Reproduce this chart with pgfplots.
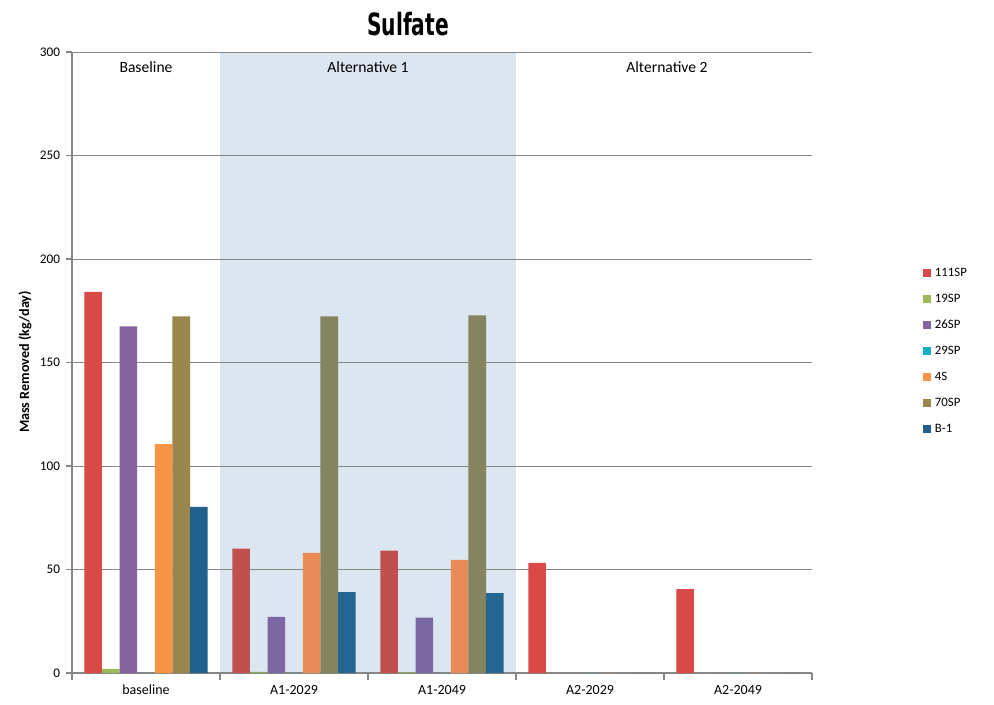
\documentclass[border=0pt]{standalone}
\usepackage{fontspec}
\setmainfont{Carlito}
\newfontfamily\titlefont{DejaVu Sans}
\usepackage{graphicx}
\usepackage{pgfplots}
\pgfplotsset{compat=1.18}
\definecolor{axisgray}{RGB}{134,134,134}
\definecolor{altshade}{RGB}{220,230,241}
\definecolor{cA}{RGB}{217,74,71}
\definecolor{cB}{RGB}{155,187,89}
\definecolor{cC}{RGB}{135,98,160}
\definecolor{cD}{RGB}{25,175,201}
\definecolor{cE}{RGB}{249,148,68}
\definecolor{cF}{RGB}{154,134,79}
\definecolor{cG}{RGB}{33,96,141}
\definecolor{aA}{RGB}{192,80,77}
\definecolor{aB}{RGB}{143,168,96}
\definecolor{aC}{RGB}{123,104,163}
\definecolor{aD}{RGB}{40,165,190}
\definecolor{aE}{RGB}{233,139,86}
\definecolor{aF}{RGB}{132,132,96}
\definecolor{aG}{RGB}{36,101,146}
\begin{document}
\begin{tikzpicture}
\begin{axis}[
  at={(54pt,23.25pt)}, anchor=south west,
  scale only axis, width=555pt, height=465.75pt,
  set layers,
  xmin=-0.5, xmax=4.5, ymin=0, ymax=300,
  axis x line*=bottom, axis y line*=left,
  axis line style={draw=axisgray, line width=0.8pt},
  ytick={0,50,...,300},
  ymajorgrids, grid style={draw=axisgray, line width=0.7pt},
  xtick={0,1,2,3,4},
  xticklabels={baseline,A1-2029,A1-2049,A2-2029,A2-2049},
  minor xtick={-0.5,0.5,1.5,2.5,3.5,4.5},
  major x tick style={draw=none},
  minor x tick style={draw=axisgray, line width=0.8pt},
  ytick style={draw=axisgray, line width=0.8pt},
  tick align=outside,
  major tick length=4.5pt, minor tick length=5pt,
  tick label style={font=\fontsize{9.9}{12}\selectfont},
  xticklabel style={font=\fontsize{10.5}{12}\selectfont, yshift=-1pt},
  yticklabel style={xshift=-1pt},
  /pgf/number format/assume math mode=true,
  ybar=0pt, bar width=0.119,
  legend style={at={(1,0.518)}, anchor=west, xshift=83pt, draw=none, fill=none,
    font=\fontsize{9.6}{11}\selectfont, row sep=8.5pt, inner sep=0pt,
    nodes={inner sep=1pt, text height=7pt, text depth=2pt, anchor=west}},
  legend cell align=left,
  legend image code/.code={\fill[#1] (0pt,-3pt) rectangle (6pt,3pt);},
]
\begin{pgfonlayer}{axis background}
\fill[altshade] (axis cs:0.5,0) rectangle (axis cs:2.5,300);
\end{pgfonlayer}

% baseline and Alternative 2 (legend series)
\addplot[bar shift=-0.357, fill=cA, draw=none] coordinates {(0,184.1) (3,53.2) (4,40.5)};
\addlegendentry{\hspace{2pt}111SP}
\addplot[bar shift=-0.238, fill=cB, draw=none] coordinates {(0,2.0) (3,0) (4,0)};
\addlegendentry{\hspace{2pt}19SP}
\addplot[bar shift=-0.119, fill=cC, draw=none] coordinates {(0,167.4) (3,0) (4,0)};
\addlegendentry{\hspace{2pt}26SP}
\addplot[bar shift=0, fill=cD, draw=none] coordinates {(0,0) (3,0) (4,0)};
\addlegendentry{\hspace{2pt}29SP}
\addplot[bar shift=0.119, fill=cE, draw=none] coordinates {(0,110.6) (3,0) (4,0)};
\addlegendentry{\hspace{2pt}4S}
\addplot[bar shift=0.238, fill=cF, draw=none] coordinates {(0,172.3) (3,0) (4,0)};
\addlegendentry{\hspace{2pt}70SP}
\addplot[bar shift=0.357, fill=cG, draw=none] coordinates {(0,80.3) (3,0) (4,0)};
\addlegendentry{\hspace{2pt}B-1}

% Alternative 1
\addplot[bar shift=-0.357, fill=aA, draw=none, forget plot] coordinates {(1,60.1) (2,59.1)};
\addplot[bar shift=-0.238, fill=aB, draw=none, forget plot] coordinates {(1,0.5) (2,0.4)};
\addplot[bar shift=-0.119, fill=aC, draw=none, forget plot] coordinates {(1,27.1) (2,26.7)};
\addplot[bar shift=0, fill=aD, draw=none, forget plot] coordinates {(1,0) (2,0)};
\addplot[bar shift=0.119, fill=aE, draw=none, forget plot] coordinates {(1,58.0) (2,54.6)};
\addplot[bar shift=0.238, fill=aF, draw=none, forget plot] coordinates {(1,172.3) (2,172.8)};
\addplot[bar shift=0.357, fill=aG, draw=none, forget plot] coordinates {(1,39.1) (2,38.6)};

\node[font=\fontsize{11.7}{14}\selectfont] at (axis cs:0,292.7) {Baseline};
\node[font=\fontsize{11.7}{14}\selectfont] at (axis cs:1.5,292.7) {Alternative 1};
\node[font=\fontsize{11.7}{14}\selectfont] at (axis cs:3.52,292.7) {Alternative 2};
\end{axis}
\node[rotate=90, font=\bfseries\fontsize{10.6}{12}\selectfont] at (18.75pt,256.5pt) {Mass Removed (kg/day)};
\node at (306pt,510pt) {\titlefont\bfseries\fontsize{23}{26}\selectfont\scalebox{0.66}[1]{Sulfate}};
\path (0,0) rectangle (745.5pt,528pt);
\end{tikzpicture}
\end{document}
